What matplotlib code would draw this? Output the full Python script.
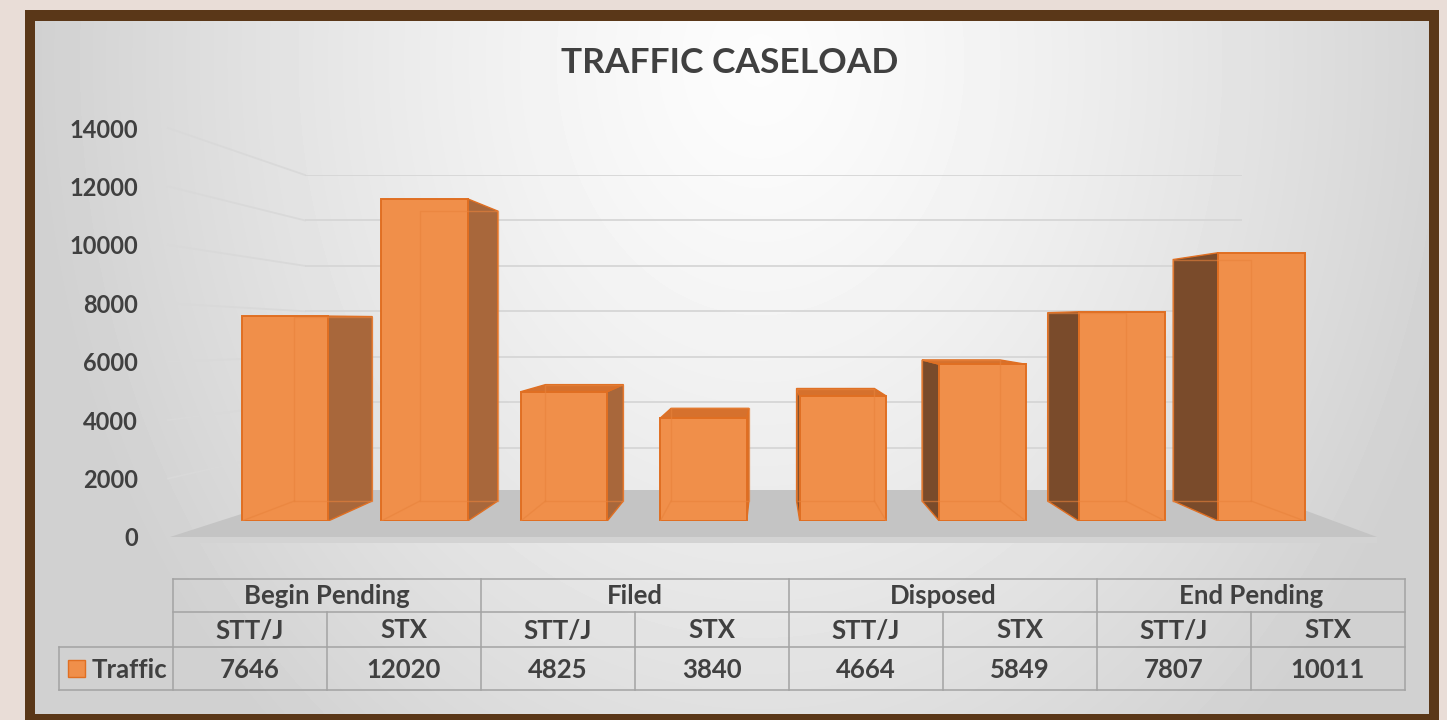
import numpy as np
import matplotlib
matplotlib.use("Agg")
import matplotlib.pyplot as plt
from matplotlib.patches import Polygon, Rectangle
from matplotlib.lines import Line2D
from matplotlib.transforms import IdentityTransform

# ---------------- data ----------------
title = "TRAFFIC CASELOAD"
groups = ["Begin Pending", "Filed", "Disposed", "End Pending"]
subgroups = ["STT/J", "STX"]
series_name = "Traffic"
values = [7646, 12020, 4825, 3840, 4664, 5849, 7807, 10011]
y_ticks = [0, 2000, 4000, 6000, 8000, 10000, 12000, 14000]

# ---------------- style ----------------
FONT = "Lato"
TXT = "#404040"
FRONT = "#F08F4A"
EDGE = "#E06F22"
SIDE_R = "#A8673B"
SIDE_L = "#7A4B2B"
TOP = "#D6712D"
W, H = 1447, 720

fig = plt.figure(figsize=(W / 100, H / 100), dpi=100)
fig.patch.set_facecolor("#e9ddd7")

def fr(x0, y0, x1, y1):
    """pixel box (top-left origin) -> figure fraction rect"""
    return [x0 / W, 1 - y1 / H, (x1 - x0) / W, (y1 - y0) / H]

# background / decoration axes in pixel units
bg = fig.add_axes([0, 0, 1, 1])
bg.set_xlim(0, W)
bg.set_ylim(H, 0)
bg.axis("off")
bg.add_patch(Rectangle((25, 10), 1414, 720, facecolor="#5a3718", edgecolor="none", zorder=1))
px0, py0, px1, py1 = 35, 21, 1429, 714
yy, xx = np.mgrid[py0:py1, px0:px1]
d = np.sqrt(((xx - 760) / 720.0) ** 2 + ((yy - 60) / 900.0) ** 2)
d = np.clip(d, 0, 1)
g = 0.99 - 0.17 * d ** 1.3
bg.imshow(g, cmap="gray", vmin=0, vmax=1, extent=[px0, px1, py1, py0],
          zorder=2, aspect="auto", interpolation="bilinear")
bg.set_xlim(0, W)
bg.set_ylim(H, 0)

fig.text(730 / W, 1 - 63 / H, title, ha="center", va="center", fontsize=25.5,
         fontweight="bold", color=TXT, family=FONT)

# ---------------- axes ----------------
# value-label plane (front of the floor)
ax_lab = fig.add_axes(fr(80, 128, 138, 537))
ax_lab.set_ylim(0, 14000)
ax_lab.set_xlim(0, 1)
ax_lab.patch.set_visible(False)
for s in ax_lab.spines.values():
    s.set_visible(False)
ax_lab.set_xticks([])
ax_lab.yaxis.tick_right()
ax_lab.set_yticks(y_ticks)
ax_lab.set_yticklabels([str(t) for t in y_ticks], family=FONT, fontweight="bold",
                       fontsize=17, color=TXT, ha="right")
ax_lab.tick_params(axis="y", length=0, pad=0)

# back wall plane
ax_wall = fig.add_axes(fr(305, 175, 1242, 493))
ax_wall.set_ylim(0, 14000)
ax_wall.set_xlim(0, 1)
ax_wall.axis("off")
for t in y_ticks[1:]:
    ax_wall.axhline(t, color="#d6d6d6", lw=1.3, zorder=3)

# bar front plane
n = len(values)
ax = fig.add_axes(fr(285 - 0.5 * 139.5, 521 - 14000 * 0.0268, 285 + 7.5 * 139.5, 521))
ax.set_xlim(-0.5, n - 0.5)
ax.set_ylim(0, 14000)
ax.axis("off")

ident = IdentityTransform()
fig.canvas.draw()

# sloped gridline segments from label plane to back wall (drawn in the background axes)
for t in y_ticks[1:]:
    _, y1 = ax_lab.transData.transform((0, t))
    x2, y2 = ax_wall.transData.transform((0, t))
    bg.add_line(Line2D([168, x2], [y1, y2], color="#d9d9d9", lw=1.3,
                       transform=ident, zorder=3))

# floor
_, yf = ax_lab.transData.transform((0, 0))
_, yb = ax_wall.transData.transform((0, 0))
yb = yb + 3
bg.add_patch(Polygon([(170, yf), (1377, yf), (1250, yb), (316, yb)], closed=True,
                     facecolor="#c4c4c4", edgecolor="none", transform=ident, zorder=3))
bg.add_patch(Polygon([(170, yf), (1377, yf), (1377, yf - 6), (170, yf - 6)], closed=True,
                     facecolor="#d3d3d3", edgecolor="none", transform=ident, zorder=3))

# 3D bars (perspective towards vanishing point)
bw = 0.62
vx, vy, s = 3.462, 7463.0, 0.9
def back(x, y):
    return vx + s * (x - vx), vy + s * (y - vy)

for i, v in enumerate(values):
    x0, x1 = i - bw / 2, i + bw / 2
    bx0, b0 = back(x0, 0)
    bx1, _ = back(x1, 0)
    _, bh = back(x0, v)
    if x1 < vx:
        ax.add_patch(Polygon([(x1, 0), (x1, v), (bx1, bh), (bx1, b0)],
                             facecolor=SIDE_R, edgecolor=EDGE, lw=1.0, zorder=3))
    if x0 > vx:
        ax.add_patch(Polygon([(x0, 0), (x0, v), (bx0, bh), (bx0, b0)],
                             facecolor=SIDE_L, edgecolor=EDGE, lw=1.0, zorder=3))
    if v < vy:
        ax.add_patch(Polygon([(x0, v), (x1, v), (bx1, bh), (bx0, bh)],
                             facecolor=TOP, edgecolor=EDGE, lw=1.0, zorder=3))
    ax.add_patch(Rectangle((x0, 0), bw, v, facecolor=FRONT, edgecolor=EDGE,
                           lw=1.4, zorder=4))
    # faint hidden back edges seen through the translucent front
    hx = [bx0, bx1, bx1, bx0, bx0]
    hy = [b0, b0, bh, bh, b0]
    ax.plot(hx, hy, color="#E8833C", lw=1.0, zorder=5, alpha=0.6, clip_on=False)
    if x1 < vx:
        ax.plot([x0, bx0], [0, b0], color="#E8833C", lw=1.0, zorder=5, alpha=0.6)
    else:
        ax.plot([x1, bx1], [0, b0], color="#E8833C", lw=1.0, zorder=5, alpha=0.6)

# ---------------- data table ----------------
LC = "#a3a3a3"
cx0, cw = 173, 154
rows = [579, 612, 647, 690]
lx = 59
ncol = len(values)
xr = cx0 + ncol * cw
for y in rows[:2]:
    bg.plot([cx0, xr], [y, y], color=LC, lw=1.1, zorder=5)
for y in rows[2:]:
    bg.plot([lx, xr], [y, y], color=LC, lw=1.1, zorder=5)
bg.plot([lx, lx], [rows[2], rows[3]], color=LC, lw=1.1, zorder=5)
for c in range(ncol + 1):
    top = rows[0] if c % 2 == 0 else rows[1]
    bg.plot([cx0 + c * cw, cx0 + c * cw], [top, rows[3]], color=LC, lw=1.1, zorder=5)

FS = 18.5
tkw = dict(ha="center", va="center", family=FONT, fontweight="bold", color=TXT,
           fontsize=FS, zorder=6)
for gi, gname in enumerate(groups):
    bg.text(cx0 + (2 * gi + 1) * cw, (rows[0] + rows[1]) / 2 + 1, gname, **tkw)
for c in range(ncol):
    bg.text(cx0 + (c + 0.5) * cw, (rows[1] + rows[2]) / 2 + 1, subgroups[c % 2], **tkw)
    bg.text(cx0 + (c + 0.5) * cw, (rows[2] + rows[3]) / 2 + 1, str(values[c]), **tkw)
bg.add_patch(Rectangle((68, 660), 17, 17, facecolor=FRONT, edgecolor=EDGE, lw=1, zorder=6))
bg.text(92, (rows[2] + rows[3]) / 2 + 1, series_name, ha="left", va="center",
        family=FONT, fontweight="bold", color=TXT, fontsize=FS, zorder=6)

fig.savefig("out.png", dpi=100, facecolor=fig.get_facecolor())
